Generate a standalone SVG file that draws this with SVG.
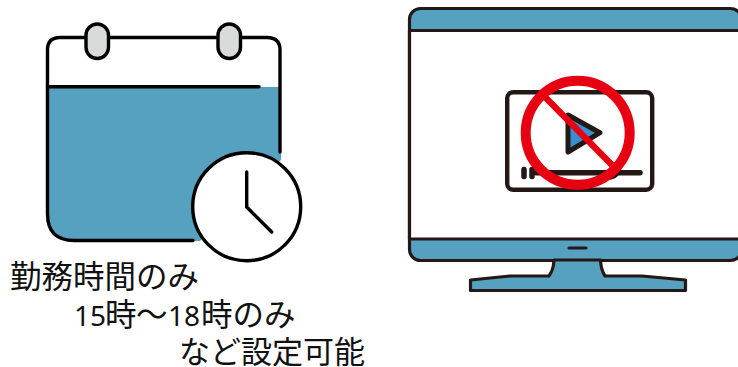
<svg xmlns="http://www.w3.org/2000/svg" width="738" height="367" viewBox="0 0 738 367">
<style>
.k{fill:none;stroke:#000;stroke-width:3.4;stroke-linecap:round;stroke-linejoin:round}
.m{stroke:#231815;stroke-width:3.2;stroke-linejoin:round;stroke-linecap:round}
.v{stroke:#231815;stroke-width:4.4;stroke-linecap:round;stroke-linejoin:round;fill:none}
.b{fill:#56a0c0}
.ring{fill:#d9dbda;stroke:#000;stroke-width:3.4}
text{font-family:"Noto Sans CJK JP","Noto Sans",sans-serif;font-size:31.5px;fill:#111}
.d{font-family:"Noto Sans",sans-serif;font-size:28px}
</style>
<rect width="738" height="367" fill="#fff"/>
<g id="calendar">
<path class="b" d="M47 87H281V160L200 241H72Q47 241 47 214Z"/>
<path class="k" d="M193 240.500H74Q47.500 240.500 47.500 214V50Q47.500 37.500 60 37.500H267Q280 37.500 280 50V152"/>
<path class="k" d="M47.500 86.700H259"/>
<rect class="ring" x="86" y="24" width="22.500" height="34.500" rx="11.200"/>
<rect class="ring" x="218" y="24" width="22.500" height="34.500" rx="11.200"/>
</g>
<g id="clock">
<circle cx="246.700" cy="206.700" r="54" fill="#fff" stroke="#000" stroke-width="3.400"/>
<path class="k" d="M246.700 172V207L271.700 232"/>
</g>
<g id="monitor">
<rect x="409.500" y="8.500" width="332" height="252" rx="11" class="b m"/>
<rect x="409.500" y="30.500" width="340" height="208.500" fill="#fff" class="m"/>
<path class="b m" d="M554 260Q553.500 270 549 276H510L470.500 280V290.500H685.500V280L642 276H605Q601 270 600.500 260Z"/>
<path class="m" fill="none" stroke-width="3" d="M569 248H586"/>
</g>
<g id="video">
<rect class="v" x="507.200" y="92.200" width="145" height="97.500" rx="6"/>
<path class="v" style="stroke-width:5.500" d="M524 169.500V176.500M532 169.500V176.500M536 172.700H640"/>
<path d="M600 172.700H620Q617 180 607 180Z" fill="#231815"/>
<path d="M568 115L600 132.700L568 152Z" fill="#3a8fd0" stroke="#231815" stroke-width="5" stroke-linejoin="round"/>
<circle cx="577.700" cy="132.700" r="52" fill="none" stroke="#e60012" stroke-width="10"/>
<path d="M545 97L612 165" stroke="#e60012" stroke-width="6.500"/>
</g>
<g id="caption">
<text x="10" y="288">勤務時間のみ</text>
<text y="326"><tspan class="d" x="74">15</tspan><tspan x="105">時</tspan><tspan x="136">～</tspan><tspan class="d" x="168">18</tspan><tspan x="201">時のみ</tspan></text>
<text x="179" y="363" style="font-size:31px">など設定可能</text>
</g>
</svg>
